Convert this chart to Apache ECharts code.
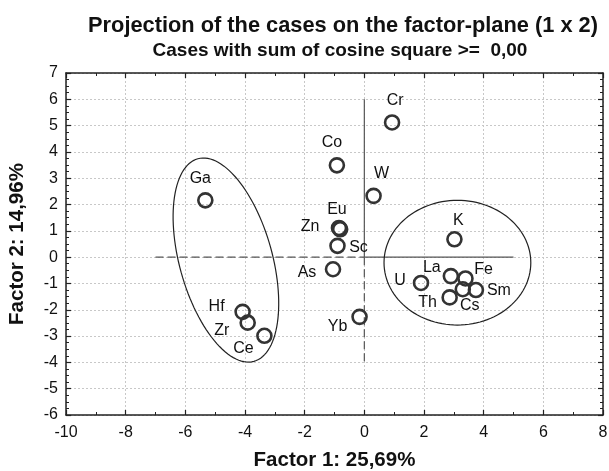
<!DOCTYPE html>
<html>
<head>
<meta charset="utf-8">
<script src="https://cdn.jsdelivr.net/npm/echarts@6/dist/echarts.min.js"></script>
<style>html,body{margin:0;padding:0;background:#fff}#c{width:609px;height:471px}</style>
</head>
<body>
<div id="c"></div>
<script>
// ---- data ----
var names = ['Cr','Co','W','Eu','Zn','Sc','K','Ga','As','Hf','Zr','Ce','Yb','U','La','Fe','Cs','Sm','Th'];
var factor1 = [0.93,-0.92,0.31,-0.85,-0.81,-0.90,3.02,-5.33,-1.05,-4.08,-3.91,-3.35,-0.16,1.90,2.90,3.39,3.30,3.74,2.86];
var factor2 = [5.12,3.49,2.33,1.11,1.06,0.43,0.68,2.16,-0.46,-2.08,-2.49,-2.99,-2.27,-0.98,-0.72,-0.81,-1.22,-1.25,-1.53];
var xTicks = [-10,-8,-6,-4,-2,0,2,4,6,8];
var yTicks = [-6,-5,-4,-3,-2,-1,0,1,2,3,4,5,6,7];
// reference axes segments [x1,y1,x2,y2]
var solidSegs = [[0,0,0,6],[0,0,5,0]];
var dashedSegs = [[-7,0,0,0],[0,0,0,-4]];
// ellipses: centre, conjugate half-axis vectors (data units)
var ellipseCx = [-4.64, 3.12];
var ellipseCy = [-0.11, -0.21];
var ellipseAx = [-0.94, 2.46];
var ellipseAy = [3.85, 0];
var ellipseBx = [1.50, 0];
var ellipseBy = [0.47, 2.37];

// label offsets (px, from symbol centre) — styling only
var labelOffset = {
  Cr:[3,-22], Co:[-5,-23], W:[8,-22], Eu:[-2,-18], Zn:[-30,-3], Sc:[21,2], K:[4,-19],
  Ga:[-5,-22], As:[-26,3], Hf:[-26,-5], Zr:[-26,8], Ce:[-21,13], Yb:[-22,10], U:[-21,-2],
  La:[-19,-9], Fe:[18,-9], Sm:[23,1], Cs:[7,16], Th:[-22,5]
};

var font = 'Liberation Sans, Arial, sans-serif';
var pts = names.map(function(n,i){
  return {name:n, value:[factor1[i], factor2[i]], label:{position:'inside', offset:labelOffset[n]}};
});

function segSeries(segs, type){
  return segs.map(function(s){
    return {type:'line', data:[[s[0],s[1]],[s[2],s[3]]], symbol:'none', silent:true, z:1,
      lineStyle:{color:'#555', width:1.2, type:type==='dashed'?[8,4]:'solid'}};
  });
}

var ellipseData = ellipseCx.map(function(c,i){ return [ellipseCx[i],ellipseCy[i],ellipseAx[i],ellipseAy[i],ellipseBx[i],ellipseBy[i]]; });

var chart = echarts.init(document.getElementById('c'), null, {renderer:'canvas'});
var axisCommon = {
  axisLine:{show:true, onZero:false, lineStyle:{color:'#222', width:1.5}},
  axisTick:{show:true, inside:true, length:5, lineStyle:{color:'#222', width:1.2}},
  splitLine:{show:false}
};
function ax(extra){ return Object.assign({}, JSON.parse(JSON.stringify(axisCommon)), extra); }

chart.setOption({
  animation:false,
  backgroundColor:'#fff',
  title:[
    {text:'Projection of the cases on the factor-plane (1 x 2)', left:338, top:10, textAlign:'center',
      textStyle:{fontFamily:font, fontSize:21.8, fontWeight:'bold', color:'#111'}},
    {text:'Cases with sum of cosine square >=  0,00', left:335, top:36, textAlign:'center',
      textStyle:{fontFamily:font, fontSize:19, fontWeight:'bold', color:'#111'}}
  ],
  grid:{left:66, right:6, top:73, bottom:56, containLabel:false, outerBoundsMode:'none'},
  xAxis:[
    ax({type:'value', min:xTicks[0], max:xTicks[xTicks.length-1], interval:2, position:'bottom',
      name:'Factor 1: 25,69%', nameLocation:'middle', nameGap:35,
      nameTextStyle:{fontFamily:font, fontSize:20.5, fontWeight:'bold', color:'#111'},
      axisLabel:{fontFamily:font, fontSize:16, color:'#111', margin:10},
      minorTick:{show:true, splitNumber:2, length:3, lineStyle:{color:'#222', width:1}},
      splitLine:{show:true, lineStyle:{color:'#c8c8c8', type:[2,2], width:1}}}),
    ax({type:'value', min:xTicks[0], max:xTicks[xTicks.length-1], interval:2, position:'top',
      axisLabel:{show:false},
      minorTick:{show:true, splitNumber:2, length:3, lineStyle:{color:'#222', width:1}}})
  ],
  yAxis:[
    ax({type:'value', min:yTicks[0], max:yTicks[yTicks.length-1], interval:1, position:'left',
      name:'Factor 2: 14,96%', nameLocation:'middle', nameGap:38,
      nameTextStyle:{fontFamily:font, fontSize:20.5, fontWeight:'bold', color:'#111'},
      axisLabel:{fontFamily:font, fontSize:16, color:'#111', margin:8},
      minorTick:{show:true, splitNumber:4, length:3, lineStyle:{color:'#222', width:1}},
      splitLine:{show:true, lineStyle:{color:'#c8c8c8', type:[2,2], width:1}}}),
    ax({type:'value', min:yTicks[0], max:yTicks[yTicks.length-1], interval:1, position:'right',
      axisLabel:{show:false},
      minorTick:{show:true, splitNumber:4, length:3, lineStyle:{color:'#222', width:1}}})
  ],
  series: segSeries(solidSegs,'solid').concat(segSeries(dashedSegs,'dashed')).concat([
    {type:'custom', silent:true, z:2, data:ellipseData,
      renderItem:function(params, api){
        var cx=api.value(0), cy=api.value(1), axx=api.value(2), ayy=api.value(3), bxx=api.value(4), byy=api.value(5);
        var p=[]; var N=120;
        for(var k=0;k<=N;k++){
          var t=2*Math.PI*k/N;
          p.push(api.coord([cx+axx*Math.cos(t)+bxx*Math.sin(t), cy+ayy*Math.cos(t)+byy*Math.sin(t)]));
        }
        return {type:'polyline', shape:{points:p}, style:{stroke:'#222', lineWidth:1.2, fill:null}};
      }},
    {type:'scatter', z:5, data:pts, symbol:'circle', symbolSize:14,
      itemStyle:{color:'rgba(0,0,0,0)', borderColor:'#333', borderWidth:2.6, opacity:1},
      label:{show:true, formatter:'{b}', fontFamily:font, fontSize:16, color:'#111', align:'center', verticalAlign:'middle'}}
  ])
});
</script>
</body>
</html>
